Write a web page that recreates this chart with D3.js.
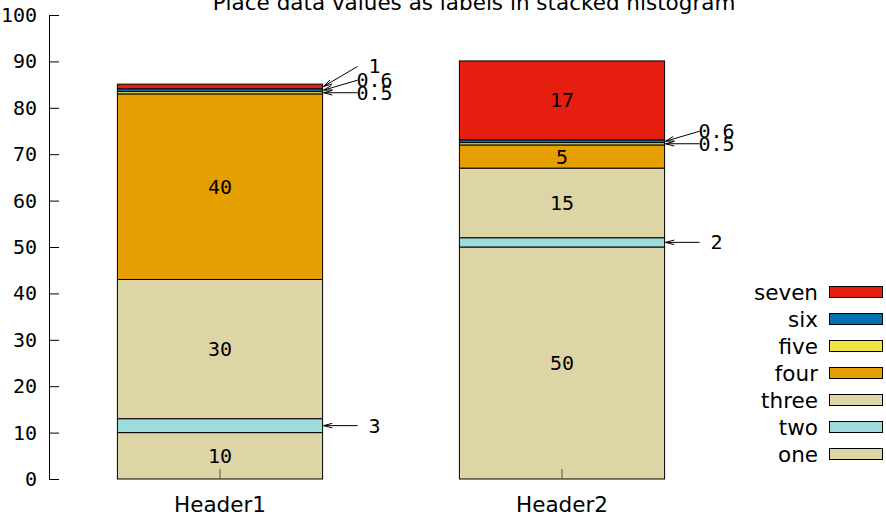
<!DOCTYPE html>
<html>
<head>
<meta charset="utf-8">
<script src="https://cdn.jsdelivr.net/npm/d3@7"></script>
<style>
  html, body { margin: 0; padding: 0; background: #fff; }
  svg { display: block; }
</style>
</head>
<body>
<script>
// ---- data ----
const categories = ["Header1", "Header2"];
const seriesNames = ["one", "two", "three", "four", "five", "six", "seven"];
const one   = [10, 50];
const two   = [3, 2];
const three = [30, 15];
const four  = [40, 5];
const five  = [0.5, 0.5];
const six   = [0.6, 0.6];
const seven = [1, 17];
const seriesColors = ["#ddd5a6", "#9edcdc", "#ddd5a6", "#e69f00", "#f0e442", "#0072b2", "#e51e10"];
const yTickValues = [0, 10, 20, 30, 40, 50, 60, 70, 80, 90, 100];
const titleText = "Place data values as labels in stacked histogram";

const seriesValues = [one, two, three, four, five, six, seven];
const rows = categories.map((c, i) => {
  const r = { cat: c };
  seriesNames.forEach((s, j) => r[s] = seriesValues[j][i]);
  return r;
});

// ---- layout ----
const W = 886, H = 517;
const svg = d3.select("body").append("svg").attr("width", W).attr("height", H);

const x = d3.scaleBand().domain(categories).range([49, 733]).paddingInner(0.4).paddingOuter(0.2);
const y = d3.scaleLinear().domain([0, 100]).range([479, 15]);
const color = d3.scaleOrdinal().domain(seriesNames).range(seriesColors);

const mono = "'DejaVu Sans Mono', monospace";
const sans = "'DejaVu Sans', sans-serif";
const sansSize = 21.5;

// title
svg.append("text")
  .attr("x", 474).attr("y", 10)
  .attr("text-anchor", "middle")
  .attr("font-family", sans).attr("font-size", sansSize)
  .attr("fill", "#000")
  .text(titleText);

// stacked bars
const stacked = d3.stack().keys(seriesNames)(rows);
const layers = svg.append("g");
stacked.forEach(layer => {
  layers.append("g").selectAll("rect").data(layer).join("rect")
    .attr("x", d => x(d.data.cat))
    .attr("width", x.bandwidth())
    .attr("y", d => y(d[1]))
    .attr("height", d => y(d[0]) - y(d[1]))
    .attr("fill", color(layer.key))
    .attr("stroke", "#000")
    .attr("stroke-width", 1);
});

// y axis
const yAxis = d3.axisLeft(y).tickValues(yTickValues).tickSizeInner(-10).tickSizeOuter(0).tickPadding(12);
const gy = svg.append("g").attr("transform", "translate(49,0)").call(yAxis);
gy.selectAll("text").attr("font-family", mono).attr("font-size", 20).attr("fill", "#000");
gy.selectAll("line").attr("stroke", "#000");
gy.select(".domain").attr("stroke", "#000");

// x axis
const xAxis = d3.axisBottom(x).tickSizeInner(-10).tickSizeOuter(0).tickPadding(18);
const gx = svg.append("g").attr("transform", "translate(0,479)").call(xAxis);
gx.select(".domain").remove();
gx.selectAll("line").attr("stroke", "#555");
gx.selectAll("text").attr("font-family", sans).attr("font-size", sansSize).attr("fill", "#000");

// value labels
const labels = svg.append("g");
const smallLimit = 4;
categories.forEach((cat, i) => {
  let run = 0;
  const right = x(cat) + x.bandwidth();
  stacked.forEach(layer => {
    const d = layer[i];
    const v = d[1] - d[0];
    const mid = y((d[0] + d[1]) / 2);
    if (v >= smallLimit) {
      run = 0;
      labels.append("text")
        .attr("x", x(cat) + x.bandwidth() / 2)
        .attr("y", mid)
        .attr("dy", "0.35em")
        .attr("text-anchor", "middle")
        .attr("font-family", mono).attr("font-size", 20)
        .attr("fill", "#000")
        .text(d3.format("")(v));
    } else {
      const ly = mid - 10 * run;
      run += 1;
      const x0 = right + 35, y0 = ly, x1 = right + 1, y1 = mid;
      labels.append("line")
        .attr("x1", x0).attr("y1", y0).attr("x2", x1).attr("y2", y1)
        .attr("stroke", "#000").attr("stroke-width", 1);
      const ang = Math.atan2(y0 - y1, x0 - x1);
      const hl = 9, ha = 0.26;
      const p = d3.path();
      p.moveTo(x1 + hl * Math.cos(ang + ha), y1 + hl * Math.sin(ang + ha));
      p.lineTo(x1, y1);
      p.lineTo(x1 + hl * Math.cos(ang - ha), y1 + hl * Math.sin(ang - ha));
      labels.append("path").attr("d", p.toString())
        .attr("fill", "none").attr("stroke", "#000").attr("stroke-width", 1);
      labels.append("text")
        .attr("x", right + 52)
        .attr("y", ly)
        .attr("dy", "0.35em")
        .attr("text-anchor", "middle")
        .attr("font-family", mono).attr("font-size", 20)
        .attr("fill", "#000")
        .text(Math.round(v * 10) / 10);
    }
  });
});

// legend
const legend = svg.append("g");
const legendOrder = seriesNames.slice().reverse();
legendOrder.forEach((s, k) => {
  const cy = 292 + k * 27;
  legend.append("text")
    .attr("x", 818).attr("y", cy)
    .attr("dy", "0.35em")
    .attr("text-anchor", "end")
    .attr("font-family", sans).attr("font-size", sansSize)
    .attr("fill", "#000")
    .text(s);
  legend.append("rect")
    .attr("x", 829.5).attr("y", cy - 5.5)
    .attr("width", 53).attr("height", 11)
    .attr("fill", color(s))
    .attr("stroke", "#000").attr("stroke-width", 1);
});
</script>
</body>
</html>
